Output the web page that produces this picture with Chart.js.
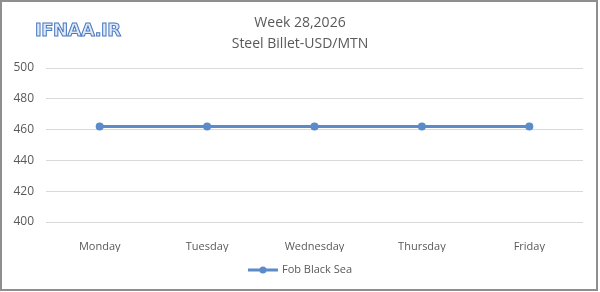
<!DOCTYPE html>
<html>
<head>
<meta charset="utf-8">
<script src="https://cdn.jsdelivr.net/npm/chart.js@4"></script>
<style>
  html, body { margin: 0; padding: 0; background: #fff; }
  #wrap { position: relative; width: 600px; height: 292px; overflow: hidden; }
  #frame { position: absolute; left: 0; top: 0; width: 598px; height: 291px; box-sizing: border-box;
           border: 2px solid #8f8f8f; pointer-events: none; }
  #logo { position: absolute; left: 35px; top: 19px; font: bold 18px "DejaVu Sans", sans-serif;
          letter-spacing: -0.5px; color: #dfe9f8; -webkit-text-stroke: 1px #4a78c0; }
  #title { position: absolute; left: 0; width: 600px; top: 11px; text-align: center;
           font: 14px "Open Sans", sans-serif; color: #595959; line-height: 21px; }
  canvas { position: absolute; left: 0; top: 0; }
</style>
</head>
<body>
<div id="wrap">
  <canvas id="chart" width="600" height="292"></canvas>
  <div id="title">Week 28,2026<br>Steel Billet-USD/MTN</div>
  <div id="logo">IFNAA.IR</div>
  <div id="frame"></div>
</div>
<script>
const days = ["Monday", "Tuesday", "Wednesday", "Thursday", "Friday"];
const fobBlackSea = [462, 462, 462, 462, 462];
const seriesName = "Fob Black Sea";
const yMin = 400, yMax = 500, yStep = 20;

const lineColor = "#5b8bc8";

// legend drawn as line + dot like the source
const legendPlugin = {
  id: "lineLegend",
  afterDraw(chart) {
    const ctx = chart.ctx;
    const ds = chart.data.datasets[0];
    ctx.save();
    ctx.font = "11px 'Open Sans', sans-serif";
    const tw = ctx.measureText(ds.label).width;
    const sw = 30, gap = 4;
    const x0 = (chart.width - (sw + gap + tw)) / 2;
    const y = 270;
    ctx.strokeStyle = ds.borderColor;
    ctx.lineWidth = 3;
    ctx.beginPath(); ctx.moveTo(x0, y); ctx.lineTo(x0 + sw, y); ctx.stroke();
    ctx.fillStyle = ds.borderColor;
    ctx.beginPath(); ctx.arc(x0 + sw / 2, y, 3.5, 0, Math.PI * 2); ctx.fill();
    ctx.fillStyle = "#595959";
    ctx.textBaseline = "middle";
    ctx.fillText(ds.label, x0 + sw + gap, y);
    ctx.restore();
  }
};

new Chart(document.getElementById("chart"), {
  type: "line",
  data: {
    labels: days,
    datasets: [{
      label: seriesName,
      data: fobBlackSea,
      borderColor: lineColor,
      backgroundColor: lineColor,
      borderWidth: 3,
      pointRadius: 4,
      pointBorderWidth: 0,
      pointHoverRadius: 4,
      tension: 0
    }]
  },
  options: {
    responsive: false,
    animation: false,
    layout: { padding: { top: 68, right: 17, bottom: 40, left: 0 } },
    plugins: { legend: { display: false }, title: { display: false }, tooltip: { enabled: false } },
    scales: {
      x: {
        offset: true,
        grid: { display: false },
        border: { display: false },
        ticks: { color: "#595959", font: { family: "Open Sans", size: 11 }, padding: 10 },
        afterFit(s) { s.height = 30; }
      },
      y: {
        min: yMin, max: yMax,
        ticks: { stepSize: yStep, color: "#595959", font: { family: "Open Sans", size: 12 }, padding: 12 },
        grid: { color: "#d9d9d9", drawTicks: false },
        border: { display: false },
        afterFit(s) { s.width = 46; }
      }
    }
  },
  plugins: [legendPlugin]
});
</script>
</body>
</html>
